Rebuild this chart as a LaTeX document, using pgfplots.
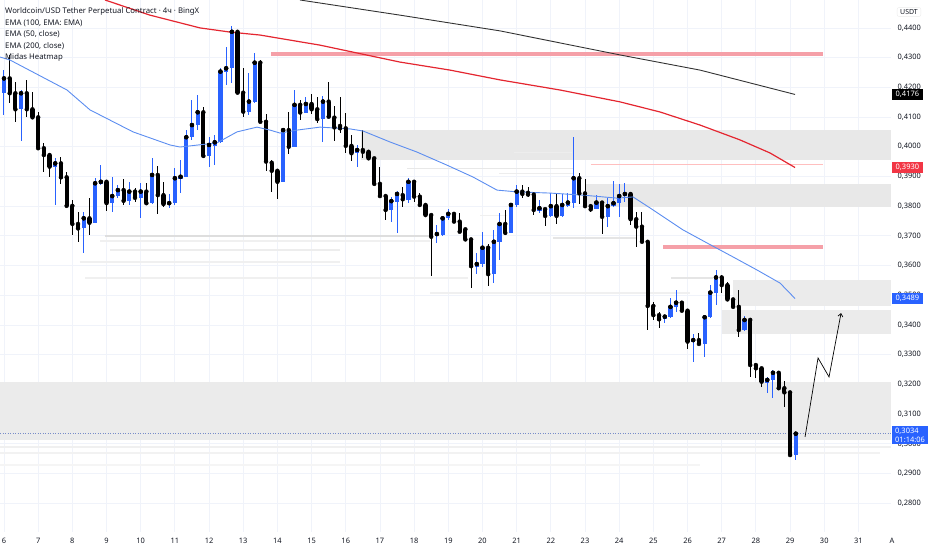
\documentclass[border=0pt]{standalone}
\usepackage{pgfplots}
\pgfplotsset{compat=1.18}
\usepackage{pgfplotstable}
\usepackage{fontspec}
\setmainfont{Noto Sans}
\usetikzlibrary{arrows.meta}
\definecolor{upc}{RGB}{41,98,255}
\definecolor{dnc}{RGB}{0,0,0}
\definecolor{emafifty}{RGB}{92,141,240}
\definecolor{emahund}{RGB}{228,38,48}
\definecolor{ematwo}{RGB}{50,50,50}
\definecolor{pinkl}{RGB}{245,160,168}
\definecolor{tagred}{RGB}{242,54,69}
\definecolor{gridc}{RGB}{240,243,250}
\definecolor{txt}{RGB}{19,23,34}
\definecolor{dotc}{RGB}{120,140,200}

\pgfplotstableread{
i o h l c
0 0.4180 0.4258 0.4107 0.4230
3 0.4126 0.4191 0.4020 0.4180
9 0.3933 0.3961 0.3804 0.3944
14 0.3725 0.3781 0.3641 0.3759
16 0.3744 0.3894 0.3742 0.3877
17 0.3873 0.3938 0.3871 0.3882
19 0.3810 0.3897 0.3781 0.3834
20 0.3834 0.3871 0.3826 0.3854
22 0.3818 0.3882 0.3804 0.3849
24 0.3828 0.3877 0.3759 0.3849
26 0.3810 0.3961 0.3807 0.3905
29 0.3807 0.3841 0.3793 0.3810
30 0.3810 0.3927 0.3804 0.3894
31 0.3890 0.3955 0.3843 0.3899
32 0.3899 0.4056 0.3899 0.4032
33 0.4032 0.4157 0.4023 0.4073
34 0.4073 0.4174 0.4056 0.4116
36 0.3969 0.4034 0.3933 0.4006
37 0.4002 0.4040 0.3938 0.4015
38 0.4015 0.4264 0.4012 0.4253
39 0.4251 0.4337 0.4208 0.4264
40 0.4264 0.4406 0.4214 0.4387
43 0.4118 0.4247 0.4107 0.4152
44 0.4152 0.4317 0.4148 0.4283
49 0.3882 0.4056 0.3882 0.4056
51 0.3998 0.4191 0.3998 0.4141
53 0.4115 0.4168 0.4113 0.4144
56 0.4093 0.4171 0.4017 0.4152
62 0.3978 0.4006 0.3931 0.3989
68 0.3787 0.3832 0.3748 0.3817
69 0.3815 0.3852 0.3709 0.3841
71 0.3821 0.3894 0.3810 0.3882
76 0.3702 0.3736 0.3675 0.3706
77 0.3703 0.3764 0.3699 0.3759
78 0.3759 0.3789 0.3753 0.3774
83 0.3596 0.3641 0.3571 0.3605
84 0.3605 0.3714 0.3596 0.3660
86 0.3571 0.3720 0.3540 0.3680
87 0.3680 0.3776 0.3619 0.3740
89 0.3710 0.3810 0.3709 0.3804
90 0.3804 0.3871 0.3798 0.3849
94 0.3785 0.3821 0.3776 0.3793
96 0.3767 0.3843 0.3764 0.3800
98 0.3767 0.3841 0.3764 0.3804
99 0.3800 0.3843 0.3798 0.3812
100 0.3812 0.4032 0.3793 0.3894
104 0.3789 0.3837 0.3789 0.3812
106 0.3764 0.3826 0.3731 0.3800
107 0.3800 0.3886 0.3798 0.3810
108 0.3810 0.3875 0.3762 0.3834
109 0.3834 0.3877 0.3815 0.3841
116 0.3419 0.3430 0.3405 0.3428
117 0.3428 0.3490 0.3422 0.3461
118 0.3461 0.3518 0.3445 0.3475
121 0.3344 0.3369 0.3276 0.3349
123 0.3336 0.3433 0.3293 0.3426
124 0.3426 0.3534 0.3422 0.3509
125 0.3509 0.3585 0.3467 0.3560
130 0.3383 0.3430 0.3381 0.3417
134 0.3206 0.3226 0.3170 0.3215
135 0.3215 0.3248 0.3153 0.3239
139 0.2962 0.3037 0.2945 0.3034
}\uptab

\pgfplotstableread{
i o h l c
1 0.4230 0.4309 0.4146 0.4180
2 0.4180 0.4219 0.4084 0.4126
4 0.4180 0.4225 0.4101 0.4126
5 0.4126 0.4185 0.4092 0.4099
6 0.4099 0.4118 0.3991 0.3995
7 0.3995 0.4012 0.3916 0.3972
8 0.3972 0.3978 0.3897 0.3933
10 0.3944 0.3966 0.3875 0.3897
11 0.3897 0.3916 0.3798 0.3801
12 0.3801 0.3821 0.3703 0.3740
13 0.3740 0.3781 0.3680 0.3725
15 0.3759 0.3826 0.3703 0.3744
18 0.3882 0.3888 0.3785 0.3810
21 0.3854 0.3891 0.3804 0.3818
23 0.3849 0.3860 0.3815 0.3828
25 0.3849 0.3877 0.3807 0.3810
27 0.3905 0.3935 0.3774 0.3837
28 0.3837 0.3882 0.3796 0.3807
35 0.4116 0.4135 0.3961 0.3969
41 0.4387 0.4390 0.4178 0.4182
42 0.4182 0.4264 0.4099 0.4118
45 0.4283 0.4292 0.4084 0.4084
46 0.4084 0.4110 0.3919 0.3950
47 0.3946 0.3955 0.3849 0.3919
48 0.3919 0.3924 0.3823 0.3882
50 0.4056 0.4118 0.3976 0.4000
52 0.4141 0.4157 0.4090 0.4115
54 0.4144 0.4178 0.4110 0.4126
55 0.4126 0.4168 0.4079 0.4093
57 0.4152 0.4219 0.4096 0.4101
58 0.4098 0.4137 0.4020 0.4065
59 0.4070 0.4168 0.4045 0.4062
60 0.4062 0.4113 0.3980 0.4003
61 0.4003 0.4040 0.3953 0.3978
63 0.3989 0.4056 0.3961 0.3983
64 0.3983 0.3986 0.3959 0.3961
65 0.3961 0.3963 0.3871 0.3875
66 0.3875 0.3933 0.3830 0.3834
67 0.3834 0.3837 0.3753 0.3787
70 0.3837 0.3865 0.3798 0.3823
72 0.3882 0.3888 0.3815 0.3832
73 0.3832 0.3843 0.3798 0.3804
74 0.3804 0.3807 0.3767 0.3770
75 0.3770 0.3772 0.3565 0.3697
79 0.3774 0.3778 0.3746 0.3748
80 0.3748 0.3776 0.3712 0.3714
81 0.3722 0.3725 0.3686 0.3688
82 0.3688 0.3692 0.3523 0.3598
85 0.3660 0.3672 0.3532 0.3571
88 0.3740 0.3787 0.3703 0.3710
91 0.3849 0.3871 0.3826 0.3841
92 0.3845 0.3863 0.3832 0.3839
93 0.3839 0.3843 0.3770 0.3787
95 0.3790 0.3793 0.3733 0.3767
97 0.3800 0.3841 0.3740 0.3767
101 0.3894 0.3911 0.3807 0.3843
102 0.3843 0.3890 0.3798 0.3800
103 0.3800 0.3807 0.3781 0.3789
105 0.3812 0.3815 0.3706 0.3764
110 0.3841 0.3845 0.3736 0.3756
111 0.3756 0.3781 0.3663 0.3731
112 0.3731 0.3781 0.3675 0.3680
113 0.3680 0.3683 0.3383 0.3464
114 0.3464 0.3478 0.3417 0.3433
115 0.3433 0.3445 0.3389 0.3419
119 0.3475 0.3482 0.3445 0.3448
120 0.3448 0.3450 0.3318 0.3344
122 0.3349 0.3374 0.3332 0.3336
126 0.3560 0.3568 0.3507 0.3534
127 0.3534 0.3546 0.3484 0.3486
128 0.3486 0.3490 0.3456 0.3461
129 0.3461 0.3518 0.3358 0.3383
131 0.3417 0.3419 0.3226 0.3265
132 0.3265 0.3273 0.3220 0.3254
133 0.3254 0.3259 0.3192 0.3209
136 0.3239 0.3243 0.3183 0.3187
137 0.3187 0.3212 0.3123 0.3173
138 0.3173 0.3179 0.2962 0.2962
}\dntab

\begin{document}
\begin{tikzpicture}
\useasboundingbox (0,0) rectangle (932bp,550bp);
\begin{axis}[
  at={(0,18bp)}, anchor=south west, scale only axis,
  width=891bp, height=532bp,
  xmin=-0.70, xmax=155.72, ymin=0.2703, ymax=0.4494,
  clip=false, axis line style={draw=none}, major tick length=0pt,
  scaled y ticks=false,
  xtick={0,6,...,150},
  xticklabels={6,7,8,9,10,11,12,13,14,15,16,17,18,19,20,21,22,23,24,25,26,27,28,29,30,31},
  ytick={0.28,0.29,0.30,0.31,0.32,0.33,0.34,0.35,0.36,0.37,0.38,0.39,0.40,0.41,0.42,0.43,0.44},
  grid=major, major grid style={draw=gridc, line width=0.8bp},
  yticklabel pos=right,
  yticklabel style={anchor=west, xshift=3bp, font=\fontsize{7.5}{9}\selectfont, text=txt,
    /pgf/number format/.cd, fixed, fixed zerofill, precision=4, use comma, assume math mode=true},
  xticklabel style={font=\fontsize{7.5}{9}\selectfont, text=txt, yshift=-3bp},
]
% heatmap zones
\fill[black!9] (axis cs:62.7,0.4056) rectangle (axis cs:155.72,0.3955);
\fill[black!9] (axis cs:102.0,0.3875) rectangle (axis cs:155.72,0.3798);
\fill[black!8] (axis cs:128.0,0.3551) rectangle (axis cs:155.72,0.3464);
\fill[black!8] (axis cs:126.1,0.3450) rectangle (axis cs:155.72,0.3369);
\fill[black!8] (axis cs:-0.70,0.3208) rectangle (axis cs:155.72,0.3012);
% streaks
\draw[black!13, line width=1.5bp] (axis cs:17.7,0.3699) -- (axis cs:74.8,0.3699);
\draw[black!6, line width=2bp] (axis cs:16.9,0.3683) -- (axis cs:74.8,0.3683);
\draw[black!7, line width=1.5bp] (axis cs:18.6,0.3652) -- (axis cs:59.0,0.3652);
\draw[black!6, line width=1.5bp] (axis cs:13.3,0.3612) -- (axis cs:59.0,0.3612);
\draw[black!6, line width=1.5bp] (axis cs:14.2,0.3558) -- (axis cs:81.5,0.3558);
\draw[black!6, line width=1.5bp] (axis cs:74.8,0.3507) -- (axis cs:120.4,0.3507);
\draw[black!9, line width=1bp] (axis cs:70.8,0.3928) -- (axis cs:100.0,0.3928);
\draw[black!7, line width=1bp] (axis cs:86.9,0.3911) -- (axis cs:100.0,0.3911);
\draw[black!7, line width=1bp] (axis cs:89.5,0.3979) -- (axis cs:99.7,0.3979);
\draw[black!6, line width=1bp] (axis cs:83.6,0.3770) -- (axis cs:88.3,0.3770);
\draw[black!10, line width=1.5bp] (axis cs:96.4,0.3692) -- (axis cs:111.1,0.3692);
\draw[black!10, line width=1.5bp] (axis cs:117.1,0.3558) -- (axis cs:124.5,0.3558);
\draw[black!6, line width=1.5bp] (axis cs:-0.70,0.2989) -- (axis cs:155.72,0.2989);
\draw[black!5, line width=1.5bp] (axis cs:-0.70,0.2969) -- (axis cs:153.8,0.2969);
\draw[black!4, line width=1.5bp] (axis cs:-0.70,0.2928) -- (axis cs:122.2,0.2928);
% pink levels
\draw[pinkl, line width=3.5bp] (axis cs:46.9,0.4312) -- (axis cs:143.8,0.4312);
\draw[pinkl, line width=3.5bp] (axis cs:115.7,0.3662) -- (axis cs:143.8,0.3662);
\draw[red!25, line width=0.8bp] (axis cs:103.1,0.3942) -- (axis cs:143.8,0.3942);
% current price dotted line
\draw[dotc, line width=0.7bp, dash pattern=on 1bp off 1.5bp] (axis cs:-0.70,0.3034) -- (axis cs:155.72,0.3034);
% EMA 200
\addplot[ematwo, line width=0.9bp, forget plot] coordinates {(51.97,0.4494) (69.52,0.4443) (87.08,0.4390) (108.15,0.4309) (122.19,0.4258) (138.87,0.4176)};
% EMA 100
\addplot[emahund, line width=1.2bp, forget plot] coordinates {(17.73,0.4494) (25.63,0.4443) (34.41,0.4400) (39.68,0.4386) (44.94,0.4376) (55.48,0.4342) (69.52,0.4285) (78.30,0.4258) (87.08,0.4225) (97.61,0.4191) (108.15,0.4151) (115.17,0.4117) (122.19,0.4073) (129.21,0.4023) (134.48,0.3979) (138.87,0.3930)};
% candles: wicks
\addplot[only marks, mark=none, forget plot, error bars/.cd, y dir=both, y explicit, error mark=none,
  error bar style={line width=1bp, draw=upc}]
  table[x=i, y=c, y error plus expr=\thisrow{h}-\thisrow{c}, y error minus expr=\thisrow{c}-\thisrow{l}] {\uptab};
\addplot[only marks, mark=none, forget plot, error bars/.cd, y dir=both, y explicit, error mark=none,
  error bar style={line width=1bp, draw=dnc}]
  table[x=i, y=c, y error plus expr=\thisrow{h}-\thisrow{c}, y error minus expr=\thisrow{c}-\thisrow{l}] {\dntab};
% candles: bodies
\addplot[only marks, mark=none, forget plot, error bars/.cd, y dir=both, y explicit, error mark=none,
  error bar style={line width=4.2bp, draw=upc}]
  table[x=i, y=c, y error plus expr=0, y error minus expr=\thisrow{c}-\thisrow{o}] {\uptab};
\addplot[only marks, mark=none, forget plot, error bars/.cd, y dir=both, y explicit, error mark=none,
  error bar style={line width=4.2bp, draw=dnc}]
  table[x=i, y=o, y error plus expr=0, y error minus expr=\thisrow{o}-\thisrow{c}] {\dntab};
% EMA 50
\addplot[emafifty, line width=0.9bp, forget plot] coordinates {(-0.70,0.4302) (1.05,0.4292) (11.06,0.4191) (15.10,0.4124) (22.65,0.4050) (29.14,0.4006) (30.90,0.3999) (37.39,0.4013) (40.91,0.4050) (44.42,0.4066) (46.70,0.4056) (48.46,0.4046) (51.44,0.4056) (55.48,0.4066) (60.74,0.4060) (63.03,0.4053) (67.77,0.4016) (72.51,0.3982) (77.77,0.3938) (82.34,0.3898) (86.55,0.3854) (90.06,0.3848) (95.86,0.3844) (101.65,0.3837) (107.62,0.3827) (110.43,0.3831) (113.41,0.3794) (119.21,0.3720) (123.42,0.3676) (127.99,0.3629) (132.20,0.3585) (136.24,0.3541) (138.87,0.3489)};
% projection arrow
\draw[black, line width=0.7bp, -{Straight Barb[length=3bp,width=5bp]}] (axis cs:140.63,0.3023) -- (axis cs:142.91,0.3289) -- (axis cs:144.84,0.3225) -- (axis cs:146.95,0.3440);
\coordinate (tA) at (axis cs:155.72,0.4176);
\coordinate (tB) at (axis cs:155.72,0.3930);
\coordinate (tC) at (axis cs:155.72,0.3489);
\coordinate (tD) at (axis cs:155.72,0.3060);
\coordinate (xA) at (axis cs:155.9,0.2703);
\end{axis}
% price tags
\node[fill=black, text=white, font=\fontsize{7.5}{9}\selectfont, inner xsep=3.5bp, inner ysep=0bp, minimum height=11bp, anchor=west] at ([xshift=1bp]tA) {0,4176};
\node[fill=tagred, text=white, font=\fontsize{7.5}{9}\selectfont, inner xsep=3.5bp, inner ysep=0bp, minimum height=11bp, anchor=west] at ([xshift=1bp]tB) {0,3930};
\node[fill=upc, text=white, font=\fontsize{7.5}{9}\selectfont, inner xsep=3.5bp, inner ysep=0bp, minimum height=11bp, anchor=west] at ([xshift=1bp]tC) {0,3489};
\node[fill=upc, text=white, font=\fontsize{7.5}{9}\selectfont, inner xsep=3bp, inner ysep=1.5bp, align=left, anchor=north west] at ([xshift=1bp]tD) {0,3034\\01:14:06};
\node[font=\fontsize{7.5}{9}\selectfont, text=txt, anchor=north, yshift=-3bp] at (xA) {A};
% USDT
\node[font=\fontsize{7}{8}\selectfont, text=txt, draw=black!8, rounded corners=2bp, inner xsep=3bp, inner ysep=2bp] at (909bp,538bp) {USDT};
% legend text
\node[anchor=west, inner sep=0pt, text=txt, font=\fontsize{7.8}{9}\selectfont\bfseries] at (5bp,539bp) {Worldcoin/USD Tether Perpetual Contract · 4ч · BingX};
\node[anchor=west, inner sep=0pt, text=txt, font=\fontsize{7.8}{9}\selectfont] at (5bp,526.7bp) {EMA (100, EMA: EMA)};
\node[anchor=west, inner sep=0pt, text=txt, font=\fontsize{7.8}{9}\selectfont] at (5bp,515.7bp) {EMA (50, close)};
\node[anchor=west, inner sep=0pt, text=txt, font=\fontsize{7.8}{9}\selectfont] at (5bp,504.3bp) {EMA (200, close)};
\node[anchor=west, inner sep=0pt, text=txt, font=\fontsize{7.8}{9}\selectfont] at (5bp,492.7bp) {Midas Heatmap};
\end{tikzpicture}
\end{document}
